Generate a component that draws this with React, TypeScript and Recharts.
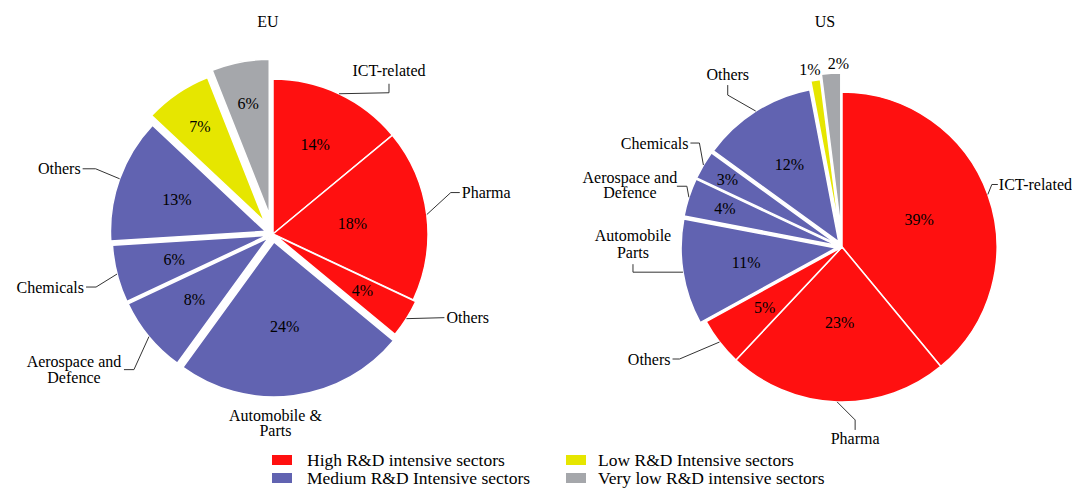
import React from "react";
import { PieChart, Pie, Cell, Sector } from "recharts";

// sectors listed clockwise from 12 o'clock
const EU_SECTORS = [
  "ICT-related",
  "Pharma",
  "Others",
  "Automobile &\nParts",
  "Aerospace and\nDefence",
  "Chemicals",
  "Others",
  "",
  "",
];
const EU_GROUPS = ["high", "high", "high", "medium", "medium", "medium", "medium", "low", "verylow"];
const EU_VALUES = [14, 18, 4, 24, 8, 6, 13, 7, 6];

const US_SECTORS = [
  "ICT-related",
  "Pharma",
  "Others",
  "Automobile\nParts",
  "Aerospace and\nDefence",
  "Chemicals",
  "Others",
  "",
  "",
];
const US_GROUPS = ["high", "high", "high", "medium", "medium", "medium", "medium", "low", "verylow"];
const US_VALUES = [39, 23, 5, 11, 4, 3, 12, 1, 2];

const LEGEND_KEYS = ["high", "medium", "low", "verylow"];
const LEGEND_LABELS = [
  "High R&D intensive sectors",
  "Medium R&D Intensive sectors",
  "Low R&D Intensive sectors",
  "Very low R&D intensive sectors",
];

const COLORS: Record<string, string> = {
  high: "#ff1010",
  medium: "#6163b1",
  low: "#e6e600",
  verylow: "#a5a7ab",
};

const FONT = "Liberation Serif, DejaVu Serif, serif";
const R = 155;

// how far each slice is pulled out of the pie
const EU_EXPLODE = [0, 0, 3, 8, 6, 6, 8, 15, 20];
const US_EXPLODE = [0, 0, 0, 6, 6, 6, 6, 14, 19];
// distance of the % label from the centre, plus a small sideways nudge
const EU_PCT_R = [99, 80, 106, 93, 102, 102, 102, 130, 133];
const US_PCT_R = [82, 76, 98, 97, 123, 133, 98, 180, 184];
const EU_PCT_DX = [0, 0, 0, 0, 0, 0, 0, 0, 0];
const US_PCT_DX = [0, 0, 0, 0, 0, 0, 0, -4, 8];

type Lab = {
  a: [number, number]; // edge -> elbow
  b: [number, number]; // elbow -> end
  t: [number, number]; // end -> text
  anchor: "start" | "end" | "middle";
  line?: boolean;
  gap?: number;
};

const EU_LABELS: (Lab | null)[] = [
  { a: [50, -1], b: [0, -9], t: [0, -13], anchor: "middle" },
  { a: [24, -22], b: [9, 0], t: [2, 0], anchor: "start" },
  { a: [38, -1], b: [0, 0], t: [2, 0], anchor: "start" },
  { a: [0, 0], b: [0, 0], t: [-18, 20], anchor: "middle", line: false, gap: 15 },
  { a: [-15, 33], b: [-10, 0], t: [-50, -8], anchor: "middle", gap: 16 },
  { a: [-21, 13], b: [-10, 0], t: [-2, 0], anchor: "end" },
  { a: [-24, -10], b: [-13, 0], t: [-2, 0], anchor: "end" },
  null,
  null,
];

const US_LABELS: (Lab | null)[] = [
  { a: [4, -10], b: [6, 0], t: [1, 0], anchor: "start" },
  { a: [18, 18], b: [0, 10], t: [0, 9], anchor: "middle" },
  { a: [-40, 17], b: [-7, 0], t: [-2, 0], anchor: "end" },
  { a: [-50, 0], b: [0, -8], t: [0, -29], anchor: "middle", gap: 17 },
  { a: [-2, -11], b: [-10, 0], t: [-47, -9], anchor: "middle", gap: 15 },
  { a: [-4, -22], b: [-9, 0], t: [-2, 0], anchor: "end" },
  { a: [-28, -16], b: [0, -10], t: [0, -11], anchor: "middle" },
  null,
  null,
];

const toRows = (names: string[], groups: string[], values: number[]) =>
  values.map((v, i) => ({ name: names[i], group: groups[i], value: v, i }));

const euData = toRows(EU_SECTORS, EU_GROUPS, EU_VALUES);
const usData = toRows(US_SECTORS, US_GROUPS, US_VALUES);

const dir = (midAngle: number) => {
  const rad = (-midAngle * Math.PI) / 180;
  return [Math.cos(rad), Math.sin(rad)];
};

const makeShape = (explode: number[]) => (props: any) => {
  const i = props.payload?.i ?? props.i ?? 0;
  const d = explode[i] || 0;
  const [ux, uy] = dir(props.midAngle);
  return (
    <Sector
      cx={props.cx + ux * d}
      cy={props.cy + uy * d}
      innerRadius={props.innerRadius}
      outerRadius={props.outerRadius}
      startAngle={props.startAngle}
      endAngle={props.endAngle}
      fill={props.fill}
      stroke="#fff"
      strokeWidth={1.5}
    />
  );
};

const makeLabel =
  (explode: number[], pctR: number[], pctDx: number[], layout: (Lab | null)[]) =>
  (props: any) => {
    const { cx, cy, midAngle, outerRadius } = props;
    const i = props.payload?.i ?? props.i ?? props.index;
    const [ux, uy] = dir(midAngle);
    const name: string = props.payload?.name ?? props.name ?? "";
    const value = props.payload?.value ?? props.value;
    const pct = (
      <text
        x={cx + ux * pctR[i] + pctDx[i]}
        y={cy + uy * pctR[i]}
        textAnchor="middle"
        dominantBaseline="central"
        style={{ fontFamily: FONT, fontSize: 16 }}
        fill="#000"
      >
        {value}%
      </text>
    );
    const lab = layout[i];
    if (!lab || !name) return <g key={`l-${i}`}>{pct}</g>;
    const r = outerRadius + (explode[i] || 0);
    const ex = cx + ux * r;
    const ey = cy + uy * r;
    const kx = ex + lab.a[0];
    const ky = ey + lab.a[1];
    const nx = kx + lab.b[0];
    const ny = ky + lab.b[1];
    const lines = name.split("\n");
    return (
      <g key={`l-${i}`}>
        {pct}
        {lab.line !== false && (
          <polyline
            points={`${ex},${ey} ${kx},${ky} ${nx},${ny}`}
            fill="none"
            stroke="#333"
            strokeWidth={1}
          />
        )}
        {lines.map((ln, k) => (
          <text
            key={k}
            x={nx + lab.t[0]}
            y={ny + lab.t[1] + k * (lab.gap || 16)}
            textAnchor={lab.anchor}
            dominantBaseline="central"
            style={{ fontFamily: FONT, fontSize: 16 }}
            fill="#000"
          >
            {ln}
          </text>
        ))}
      </g>
    );
  };

const PieBlock = (
  data: any[],
  cx: number,
  cy: number,
  explode: number[],
  pctR: number[],
  pctDx: number[],
  layout: (Lab | null)[],
  id: string
) => {
  const shape = makeShape(explode);
  return (
    <Pie
      key={id}
      data={data}
      dataKey="value"
      nameKey="name"
      cx={cx}
      cy={cy}
      outerRadius={R}
      startAngle={90}
      endAngle={-270}
      stroke="#fff"
      strokeWidth={1.5}
      isAnimationActive={false}
      labelLine={false}
      label={makeLabel(explode, pctR, pctDx, layout)}
      shape={shape}
      inactiveShape={shape}
      activeShape={shape}
    >
      {data.map((d) => (
        <Cell key={`${id}-${d.i}`} fill={COLORS[d.group]} />
      ))}
    </Pie>
  );
};

const textStyle = { fontFamily: FONT, fontSize: 16 };
const legendStyle = { fontFamily: FONT, fontSize: 17.5 };

export default function App() {
  return (
    <div
      style={{
        position: "absolute",
        left: 0,
        top: 0,
        width: 1072,
        height: 489,
        background: "#fff",
      }}
    >
      <PieChart width={1072} height={489} margin={{ top: 0, right: 0, bottom: 0, left: 0 }}>
        {PieBlock(euData, 273, 234, EU_EXPLODE, EU_PCT_R, EU_PCT_DX, EU_LABELS, "eu")}
        {PieBlock(usData, 842, 247, US_EXPLODE, US_PCT_R, US_PCT_DX, US_LABELS, "us")}
      </PieChart>
      <svg
        width={1072}
        height={489}
        style={{ position: "absolute", left: 0, top: 0, pointerEvents: "none" }}
      >
        <text x={268} y={21} textAnchor="middle" dominantBaseline="central" style={textStyle} fill="#000">
          EU
        </text>
        <text x={825} y={21} textAnchor="middle" dominantBaseline="central" style={textStyle} fill="#000">
          US
        </text>
        {LEGEND_KEYS.map((k, j) => {
          const col = j < 2 ? 0 : 1;
          const row = j % 2;
          const sx = col === 0 ? 272 : 566;
          const tx = col === 0 ? 307 : 598;
          const y = 460 + row * 18;
          return (
            <g key={k}>
              <rect x={sx} y={y - 5} width={20} height={10} fill={COLORS[k]} />
              <text x={tx} y={y} dominantBaseline="central" style={legendStyle} fill="#000">
                {LEGEND_LABELS[j]}
              </text>
            </g>
          );
        })}
      </svg>
    </div>
  );
}
